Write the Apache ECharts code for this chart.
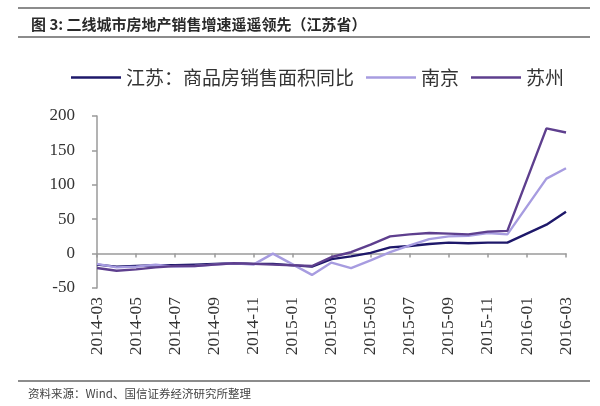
<!DOCTYPE html>
<html>
<head>
<meta charset="utf-8">
<script src="https://cdn.jsdelivr.net/npm/echarts@6/dist/echarts.min.js"></script>
<style>html,body{margin:0;padding:0;background:#fff}#c{width:600px;height:406px}</style>
</head>
<body>
<div id="c"></div>
<script>
const categories = ['2014-03','2014-04','2014-05','2014-06','2014-07','2014-08','2014-09','2014-10','2014-11','2014-12','2015-01','2015-02','2015-03','2015-04','2015-05','2015-06','2015-07','2015-08','2015-09','2015-10','2015-11','2015-12','2016-01','2016-02','2016-03'];
const jiangsu = [-16,-19,-18,-17,-17,-16,-15,-14,-15,-15,null,-19,-8,-4,1,9,11,14,16,15,16,16,null,42,61];
const nanjing = [-15,-20,-19,-16,-19,-18,-16,-14,-16,0,null,-31,-13,-21,-10,2,12,21,25,26,30,28,null,109,124];
const suzhou = [-21,-25,-23,-20,-18,-18,-16,-14,-15,-16,null,-18,-5,2,13,25,28,30,29,28,32,33,null,182,176];
const seriesNames = ['江苏：商品房销售面积同比','南京','苏州'];
const yTicks = {min:-50, max:200, interval:50};

const chart = echarts.init(document.getElementById('c'), null, {renderer:'canvas'});
const serif = '"Liberation Serif","DejaVu Serif",serif';
const cjk = '"Noto Sans CJK SC","Noto Sans CJK JP",sans-serif';
const gray = '#9a9a9a';
function mk(name, data, color, w){
  return {name, type:'line', data, xAxisIndex:0, yAxisIndex:0, symbol:'none', connectNulls:true,
    lineStyle:{color, width:w}, itemStyle:{color}, z:3};
}
chart.setOption({
  animation:false,
  backgroundColor:'#fff',
  title:{text:'图 3: 二线城市房地产销售增速遥遥领先（江苏省）', left:26, top:12,
    textStyle:{fontFamily:cjk, fontSize:15, fontWeight:'bold', color:'#2a2a2a'}},
  graphic:[
    {type:'line', shape:{x1:18,y1:8,x2:590,y2:8}, style:{stroke:'#8c8c8c', lineWidth:2}},
    {type:'line', shape:{x1:18,y1:37,x2:590,y2:37}, style:{stroke:'#8c8c8c', lineWidth:2}},
    {type:'line', shape:{x1:18,y1:381,x2:590,y2:381}, style:{stroke:'#8c8c8c', lineWidth:2}},
    {type:'text', left:28, top:388, style:{text:'资料来源：Wind、国信证券经济研究所整理', font:'11.5px "Noto Sans CJK SC",sans-serif', fill:'#444'}}
  ],
  legend:{left:66, top:63, icon:'rect', itemWidth:50, itemHeight:2.5, itemGap:12,
    textStyle:{fontFamily:cjk, fontSize:19, color:'#333'},
    data:seriesNames},
  grid:{left:97, right:34, top:116, bottom:118},
  xAxis:[
    {type:'category', data:categories, boundaryGap:false, position:'bottom',
      axisLine:{show:false, onZero:false}, axisTick:{show:false},
      axisLabel:{interval:1, rotate:90, margin:9, fontFamily:serif, fontSize:17.5, color:'#333'},
      splitLine:{show:false}},
    {type:'category', data:categories, boundaryGap:false, position:'top',
      axisLine:{show:true, onZero:true, lineStyle:{color:gray, width:1.5}},
      axisTick:{show:true, interval:1, inside:true, length:4, lineStyle:{color:gray, width:1.5}},
      axisLabel:{show:false}, splitLine:{show:false}}
  ],
  yAxis:{type:'value', min:yTicks.min, max:yTicks.max, interval:yTicks.interval,
    axisLine:{show:true, lineStyle:{color:gray, width:1.5}},
    axisTick:{show:true, length:5, lineStyle:{color:gray, width:1.5}},
    axisLabel:{fontFamily:serif, fontSize:17, color:'#333', margin:22},
    splitLine:{show:false}},
  series:[
    mk(seriesNames[0], jiangsu, '#1e186a', 2.4),
    mk(seriesNames[1], nanjing, '#a79ce0', 2.4),
    mk(seriesNames[2], suzhou, '#5e3f8e', 2.4)
  ]
});
</script>
</body>
</html>
